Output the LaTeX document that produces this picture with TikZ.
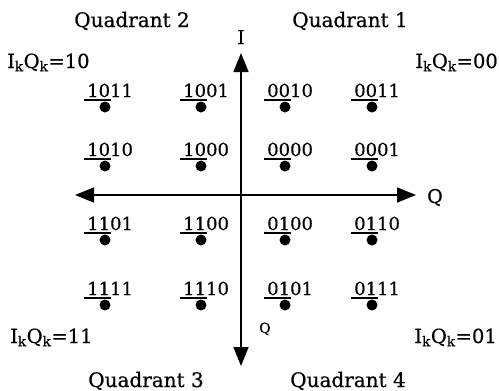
\documentclass[tikz,border=0pt]{standalone}
\usepackage{fontspec}
\setmainfont{DejaVu Serif}[FakeBold=0.5]
\usetikzlibrary{arrows.meta}
\begin{document}
\begin{tikzpicture}[x=1pt,y=-1pt,
  axis/.style={line width=1.6pt, {Triangle[length=19pt,width=15pt]}-{Triangle[length=19pt,width=15pt]}},
  dotnode/.style={circle, fill=black, inner sep=0pt, minimum size=11pt},
  codelbl/.style={anchor=base west, inner sep=0pt, font=\fontsize{18}{18}\selectfont},
  uline/.style={line width=1.4pt},
  quadlbl/.style={anchor=base, inner sep=0pt, font=\fontsize{20}{20}\selectfont},
  iqlbl/.style={inner sep=0pt, font=\fontsize{19.5}{19.5}\selectfont},
  axlbl/.style={inner sep=0pt, font=\fontsize{19}{19}\selectfont}
]
\useasboundingbox (0,0) rectangle (499,391);
\fill[white] (0,0) rectangle (499,391);

% axes
\coordinate (Itop) at (241,53);
\coordinate (Ibot) at (241,366);
\coordinate (Qleft) at (75,195);
\coordinate (Qright) at (416,195);
\draw[axis] (Ibot) -- (Itop);
\draw[axis] (Qleft) -- (Qright);

\node[axlbl, anchor=base] (Ilbl) at (241,44) {I};
\node[axlbl, anchor=base west] (Qlbl) at (427,203) {Q};
\node[inner sep=0pt, anchor=base west, font=\fontsize{14}{14}\selectfont] (Qsmall) at (259,333) {Q};

% constellation points
\foreach \px/\py/\name/\a/\b in {
  105/107/1011/10/11, 201/107/1001/10/01, 285/107/0010/00/10, 372/107/0011/00/11,
  105/166/1010/10/10, 201/166/1000/10/00, 285/166/0000/00/00, 372/166/0001/00/01,
  105/240/1101/11/01, 201/240/1100/11/00, 285/240/0100/01/00, 372/240/0110/01/10,
  105/305/1111/11/11, 201/305/1110/11/10, 285/305/0101/01/01, 372/305/0111/01/11}{
  \node[dotnode] (d\name) at (\px,\py) {};
  \node[codelbl] (l\name) at (\px-18,\py-10) {\a\b};
  \coordinate (ua\name) at (\px-21,\py-7);
  \coordinate (ub\name) at (\px+6,\py-7);
  \draw[uline] (ua\name) -- (ub\name);
}

% quadrant labels
\node[quadlbl] (q2) at (132,27) {Quadrant 2};
\node[quadlbl] (q1) at (350,27) {Quadrant 1};
\node[quadlbl] (q3) at (146,387) {Quadrant 3};
\node[quadlbl] (q4) at (348,387) {Quadrant 4};

% IkQk labels
\node[iqlbl, anchor=base west] (iq10) at (7,68) {I\textsubscript{k}Q\textsubscript{k}=10};
\node[iqlbl, anchor=base east] (iq00) at (498,68) {I\textsubscript{k}Q\textsubscript{k}=00};
\node[iqlbl, anchor=base west] (iq11) at (10,343) {I\textsubscript{k}Q\textsubscript{k}=11};
\node[iqlbl, anchor=base east] (iq01) at (497,343) {I\textsubscript{k}Q\textsubscript{k}=01};
\end{tikzpicture}
\end{document}
